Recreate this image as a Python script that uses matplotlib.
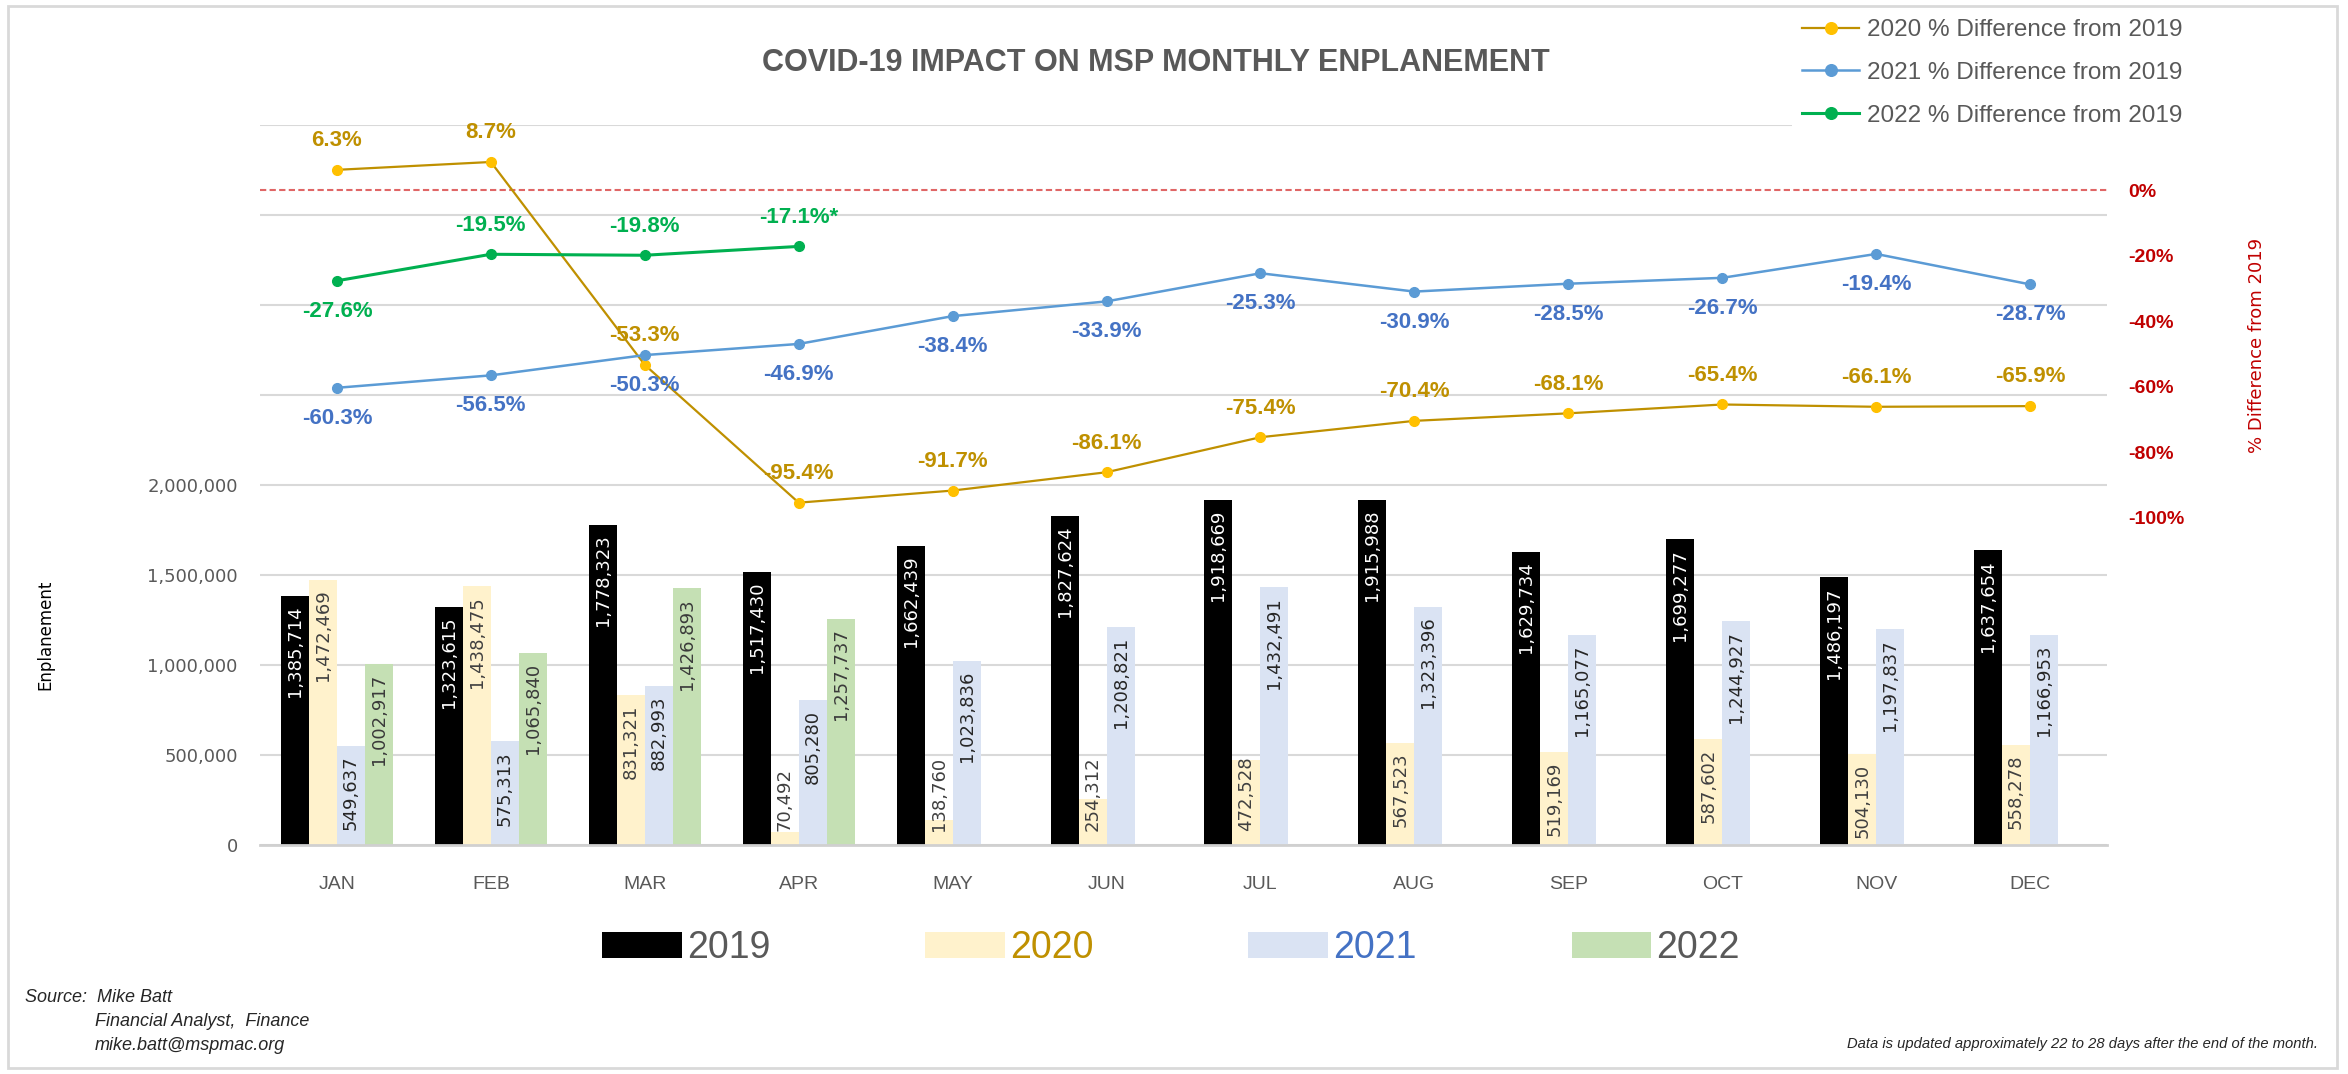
import matplotlib
matplotlib.use("Agg")
import matplotlib.pyplot as plt
from matplotlib.patches import Rectangle, Patch
from matplotlib.ticker import FuncFormatter, MultipleLocator
import numpy as np

months = ["JAN", "FEB", "MAR", "APR", "MAY", "JUN", "JUL", "AUG", "SEP", "OCT", "NOV", "DEC"]
enpl_2019 = [1385714, 1323615, 1778323, 1517430, 1662439, 1827624,
             1918669, 1915988, 1629734, 1699277, 1486197, 1637654]
enpl_2020 = [1472469, 1438475, 831321, 70492, 138760, 254312,
             472528, 567523, 519169, 587602, 504130, 558278]
enpl_2021 = [549637, 575313, 882993, 805280, 1023836, 1208821,
             1432491, 1323396, 1165077, 1244927, 1197837, 1166953]
enpl_2022 = [1002917, 1065840, 1426893, 1257737]

pct_2020 = [6.3, 8.7, -53.3, -95.4, -91.7, -86.1, -75.4, -70.4, -68.1, -65.4, -66.1, -65.9]
pct_2021 = [-60.3, -56.5, -50.3, -46.9, -38.4, -33.9, -25.3, -30.9, -28.5, -26.7, -19.4, -28.7]
pct_2022 = [-27.6, -19.5, -19.8, -17.1]
pct_2022_labels = ["-27.6%", "-19.5%", "-19.8%", "-17.1%*"]
pct_2022_above = [False, True, True, True]

CAL = ["Liberation Sans", "DejaVu Sans"]   # stand-in for Calibri
VER = ["DejaVu Sans"]                       # stand-in for Verdana
GREY = "#595959"
plt.rcParams["font.family"] = CAL

W, H = 2348, 1074
fig = plt.figure(figsize=(W / 100, H / 100), dpi=100)
ax = fig.add_axes([260 / W, 1 - 845 / H, (2107 - 260) / W, 720 / H])

x = np.arange(len(months))
bw = 0.182
series = [
    (enpl_2019, "2019", "black", "white", GREY),
    (enpl_2020, "2020", "#FFF2CC", "#404040", "#BF9000"),
    (enpl_2021, "2021", "#DAE3F3", "#262626", "#4472C4"),
    (enpl_2022, "2022", "#C5E0B4", "#3A3A3A", GREY),
]
ymax = 4000000
px_per_unit = 720 / ymax
lab_pt = 13
lab_px = lab_pt * 100 / 72
bar_handles = []
for i, (vals, name, fc, tc, lc) in enumerate(series):
    xs = x[:len(vals)] + (i - 1.5) * bw
    ax.bar(xs, vals, width=bw, color=fc, zorder=2)
    bar_handles.append(Patch(facecolor=fc, label=name))
    for xi, v in zip(xs, vals):
        txt = f"{v:,}"
        ndig = sum(c.isdigit() for c in txt)
        tlen = (ndig * 0.636 + txt.count(",") * 0.318) * lab_px
        # inside end when it fits, otherwise start from the base
        if v * px_per_unit >= tlen + 12:
            ax.annotate(txt, (xi, v), xytext=(0, -7), textcoords="offset points",
                        rotation=90, ha="center", va="top", color=tc,
                        fontsize=lab_pt, family=VER, zorder=3)
        else:
            ax.annotate(txt, (xi, 0), xytext=(0, 10), textcoords="offset points",
                        rotation=90, ha="center", va="bottom", color=tc,
                        fontsize=lab_pt, family=VER, zorder=3)

ax.set_xlim(-0.5, len(months) - 0.5)
ax.set_ylim(0, ymax)
ax.yaxis.set_major_locator(MultipleLocator(500000))
ax.yaxis.set_major_formatter(FuncFormatter(lambda v, p: f"{v:,.0f}" if v <= 2000000 else ""))
ax.grid(axis="y", color="#D9D9D9", lw=1.5, zorder=0)
ax.set_axisbelow(True)
ax.set_xticks(x)
ax.set_xticklabels(months)
ax.tick_params(axis="x", length=0, pad=22, labelsize=14, labelcolor=GREY)
ax.tick_params(axis="y", length=0, pad=16, labelsize=13, labelcolor=GREY)
for t in ax.get_yticklabels():
    t.set_family(VER)
for s in ["top", "right", "left"]:
    ax.spines[s].set_visible(False)
ax.spines["bottom"].set_color("#D0D0D0")
ax.spines["bottom"].set_linewidth(2)
fig.text(45 / W, 1 - 635 / H, "Enplanement", rotation=90, ha="center", va="center",
         family=VER, fontsize=12, color="black")

ax2 = ax.twinx()
ax2.set_ylim(-200, 20)
ax2.set_yticks(range(-100, 1, 20))
ax2.yaxis.set_major_formatter(FuncFormatter(lambda v, p: f"{v:.0f}%"))
ax2.tick_params(axis="y", length=0, pad=15, labelsize=14, labelcolor="#C00000")
for t in ax2.get_yticklabels():
    t.set_fontweight("bold")
for s in ax2.spines.values():
    s.set_visible(False)
ax2.axhline(0, color="#E06666", lw=1.5, ls=(0, (3, 1.6)), zorder=1)

l20, = ax2.plot(x, pct_2020, color="#BF9000", lw=1.6, marker="o", ms=7,
                mfc="#FFC000", mec="#FFC000", label="2020 % Difference from 2019", zorder=4)
l21, = ax2.plot(x, pct_2021, color="#5B9BD5", lw=1.8, marker="o", ms=7,
                mfc="#5B9BD5", mec="#5B9BD5", label="2021 % Difference from 2019", zorder=4)
l22, = ax2.plot(x[:len(pct_2022)], pct_2022, color="#00B050", lw=2.2, marker="o", ms=7,
                mfc="#00B050", mec="#00B050", label="2022 % Difference from 2019", zorder=4)

for xi, v in zip(x, pct_2020):
    ax2.annotate(f"{v:.1f}%", (xi, v), xytext=(0, 21), textcoords="offset points",
                 ha="center", va="center", color="#BF9000", fontsize=16, fontweight="bold", zorder=5)
for xi, v in zip(x, pct_2021):
    ax2.annotate(f"{v:.1f}%", (xi, v), xytext=(0, -22), textcoords="offset points",
                 ha="center", va="center", color="#4472C4", fontsize=16, fontweight="bold", zorder=5)
for xi, v, lab, up in zip(x, pct_2022, pct_2022_labels, pct_2022_above):
    ax2.annotate(lab, (xi, v), xytext=(0, 21 if up else -22), textcoords="offset points",
                 ha="center", va="center", color="#00B050", fontsize=16, fontweight="bold", zorder=5)

fig.text(2257 / W, 1 - 345 / H, "% Difference from 2019", rotation=90, ha="center", va="center",
         family=VER, fontsize=13, color="#C00000")

fig.text(1156 / W, 1 - 63 / H, "COVID-19 IMPACT ON MSP MONTHLY ENPLANEMENT", ha="center", va="center",
         fontsize=22, fontweight="bold", color=GREY)

fig.legend(handles=[l20, l21, l22], loc="upper left", bbox_to_anchor=(1792 / W, 1 - 9 / H),
           frameon=True, facecolor="white", edgecolor="none", framealpha=1, fancybox=False,
           prop={"family": CAL, "size": 17.5}, labelcolor=GREY, handlelength=2.35,
           handletextpad=0.3, labelspacing=0.85, borderpad=0.42, borderaxespad=0, markerscale=1.2)

fig.legend(handles=bar_handles, loc="center", bbox_to_anchor=(1171 / W, 1 - 948 / H), ncol=4,
           frameon=False, prop={"family": CAL, "size": 27},
           labelcolor=[s[4] for s in series], handlelength=2.13, handleheight=0.67,
           handletextpad=0.13, columnspacing=4.13)

fig.text(25 / W, 1 - 997 / H, "Source:  Mike Batt", ha="left", va="center",
         fontsize=13, style="italic", color="#262626")
fig.text(95 / W, 1 - 1022 / H, "Financial Analyst,  Finance", ha="left", va="center",
         fontsize=13, style="italic", color="#262626")
fig.text(95 / W, 1 - 1046 / H, "mike.batt@mspmac.org", ha="left", va="center",
         fontsize=13, style="italic", color="#262626")
fig.text(2318 / W, 1 - 1044 / H, "Data is updated approximately 22 to 28 days after the end of the month.",
         ha="right", va="center", fontsize=10.6, style="italic", color="#262626")

fig.add_artist(Rectangle((8 / W, 6 / H), (2337 - 8) / W, (1068 - 6) / H, transform=fig.transFigure,
                         fill=False, ec="#D9D9D9", lw=2))

fig.savefig("out.png", dpi=100)
